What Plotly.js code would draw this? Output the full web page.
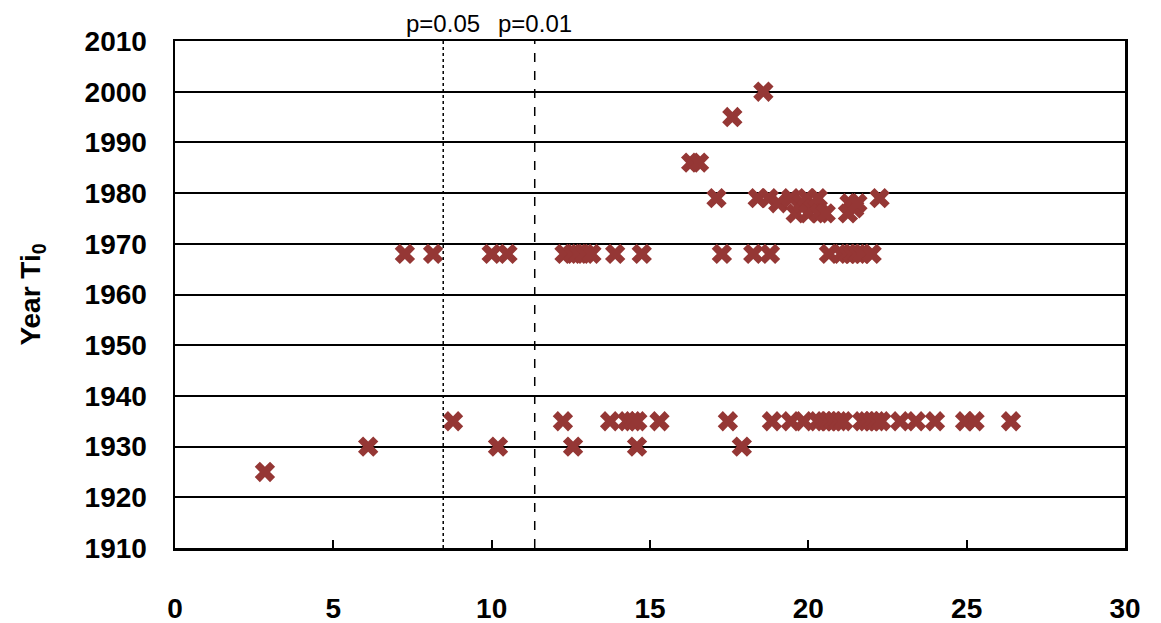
<!DOCTYPE html>
<html>
<head>
<meta charset="utf-8">
<script src="https://cdn.plot.ly/plotly-3.0.1.min.js"></script>
<style>html,body{margin:0;padding:0;background:#fff;}#chart{width:1161px;height:623px;}</style>
</head>
<body>
<div id="chart"></div>
<script>
// Data
const xValues = [
  2.84,
  6.1, 10.2, 12.57, 14.59, 17.9,
  8.78, 12.25, 13.74, 14.28, 14.45, 14.6, 15.3, 17.46, 18.85, 19.45, 19.85, 20.3, 20.5, 20.65, 20.8, 20.95, 21.1, 21.7, 21.85, 22.0, 22.15, 22.3, 22.9, 23.4, 24.0, 24.95, 25.25, 26.4,
  7.26, 8.15, 10.0, 10.5, 12.3, 12.55, 12.75, 12.95, 13.15, 13.9, 14.74, 17.27, 18.26, 18.79, 20.65, 21.05, 21.25, 21.4, 21.55, 21.7, 22.0,
  17.1, 18.4, 18.75, 19.05, 19.45, 19.6, 19.8, 19.95, 20.0, 20.15, 20.3, 20.35, 20.55, 21.25, 21.3, 21.45, 21.55, 22.25,
  16.3, 16.55,
  17.6,
  18.58
];
const yValues = [
  1925,
  1930, 1930, 1930, 1930, 1930,
  1935, 1935, 1935, 1935, 1935, 1935, 1935, 1935, 1935, 1935, 1935, 1935, 1935, 1935, 1935, 1935, 1935, 1935, 1935, 1935, 1935, 1935, 1935, 1935, 1935, 1935, 1935, 1935,
  1968, 1968, 1968, 1968, 1968, 1968, 1968, 1968, 1968, 1968, 1968, 1968, 1968, 1968, 1968, 1968, 1968, 1968, 1968, 1968, 1968,
  1979, 1979, 1979, 1978, 1979, 1976, 1978, 1979, 1976, 1977, 1979, 1976, 1976, 1976, 1978, 1977, 1978, 1979,
  1986, 1986,
  1995,
  2000
];
const thresholdX = [8.47, 11.36];
const thresholdLabels = ['p=0.05', 'p=0.01'];
const thresholdDash = ['dot', 'dash'];
const xTicks = [0, 5, 10, 15, 20, 25, 30];
const yTicks = [1910, 1920, 1930, 1940, 1950, 1960, 1970, 1980, 1990, 2000, 2010];

const FONT = 'Liberation Sans, Arial, sans-serif';

const shapes = thresholdX.map((x, i) => ({
  type: 'line', xref: 'x', yref: 'paper', x0: x, x1: x, y0: 0, y1: 1,
  line: {color: '#000', width: 1.5, dash: thresholdDash[i]}
}));
const annotations = thresholdX.map((x, i) => ({
  xref: 'x', yref: 'paper', x: x, y: 1, yanchor: 'bottom', yshift: 2,
  text: thresholdLabels[i], showarrow: false,
  font: {family: FONT, size: 24, color: '#000'}
}));

const trace = {
  x: xValues, y: yValues, type: 'scatter', mode: 'markers',
  marker: {symbol: 'x', size: 18, color: '#953735', line: {width: 0}},
  hoverinfo: 'x+y'
};

const layout = {
  width: 1161, height: 623,
  margin: {l: 175, r: 36, t: 41, b: 75},
  paper_bgcolor: '#fff', plot_bgcolor: '#fff',
  showlegend: false,
  xaxis: {
    range: [0, 30], tickvals: xTicks, ticktext: xTicks.map(String),
    showgrid: false, zeroline: false,
    showline: true, linecolor: '#000', linewidth: 2.5, mirror: true,
    ticks: 'inside', ticklen: 8, tickwidth: 2, tickcolor: '#000',
    ticklabelstandoff: 34,
    tickfont: {family: FONT, size: 28, color: '#000', weight: 'bold'}
  },
  yaxis: {
    range: [1910, 2010], tickvals: yTicks, ticktext: yTicks.map(String),
    showgrid: true, gridcolor: '#000', gridwidth: 2, zeroline: false,
    showline: true, linecolor: '#000', linewidth: 2.5, mirror: true,
    ticks: 'inside', ticklen: 6, tickwidth: 2, tickcolor: '#000',
    ticklabelstandoff: 20,
    tickfont: {family: FONT, size: 28, color: '#000', weight: 'bold'},
    title: {text: 'Year Ti<sub>0</sub>', standoff: 36, font: {family: FONT, size: 28, color: '#000', weight: 'bold'}}
  },
  shapes: shapes,
  annotations: annotations
};

Plotly.newPlot('chart', [trace], layout, {displayModeBar: false, staticPlot: true});
</script>
</body>
</html>
